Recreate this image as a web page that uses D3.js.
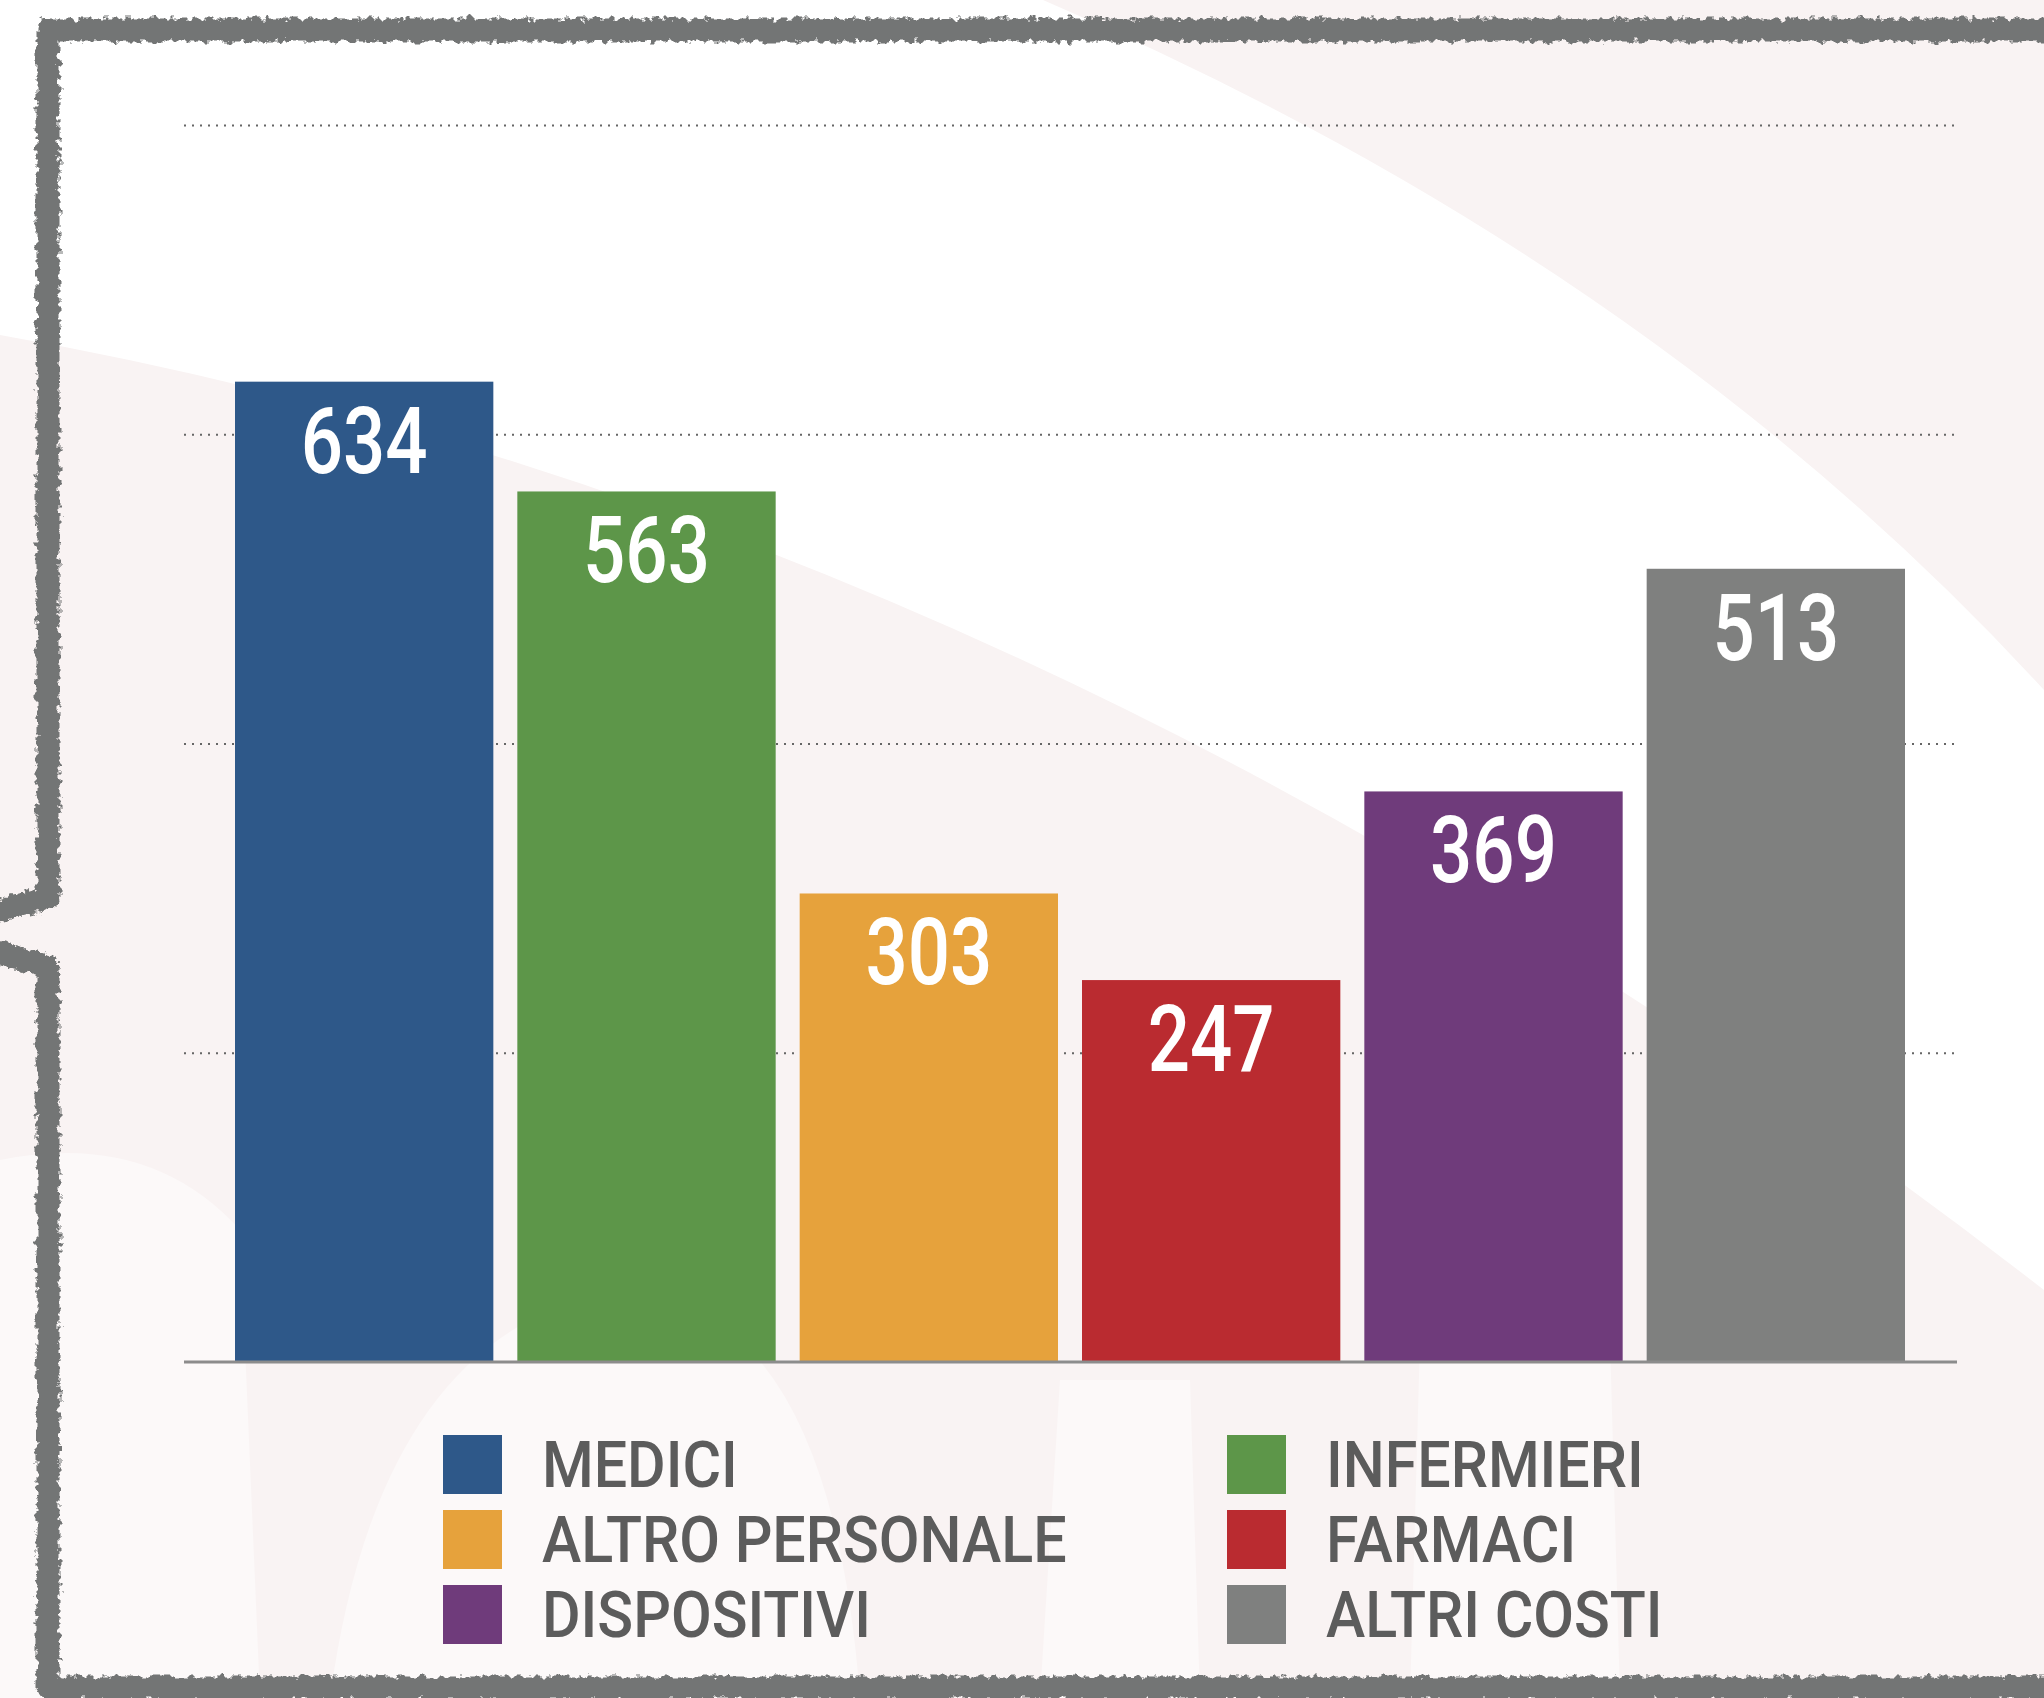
<!DOCTYPE html>
<html>
<head>
<meta charset="utf-8">
<script src="https://cdnjs.cloudflare.com/ajax/libs/d3/7.8.5/d3.min.js"></script>
<style>
  body { margin: 0; background: #fff; }
  svg { display: block; }
</style>
</head>
<body>
<svg width="2044" height="1698"></svg>
<script>
// data
const categories = ["MEDICI", "INFERMIERI", "ALTRO PERSONALE", "FARMACI", "DISPOSITIVI", "ALTRI COSTI"];
const values = [634, 563, 303, 247, 369, 513];
const colors = ["#2e5889", "#5d9649", "#e6a23c", "#ba2b30", "#6f3b7b", "#7f807f"];
const yTicks = [200, 400, 600, 800];

const svg = d3.select('svg');
const width = +svg.attr('width');
const height = +svg.attr('height');

const margin = { top: 125, right: 87, bottom: 336, left: 184 };
const innerWidth = width - margin.left - margin.right;
const innerHeight = height - margin.top - margin.bottom;

// DIN-like look: Roboto squeezed horizontally
const labelFont = 'Roboto, "Noto Sans", sans-serif';

// defs: rough brush filter for the frame
const defs = svg.append('defs');
const rough = defs.append('filter').attr('id', 'rough')
  .attr('x', '-5%').attr('y', '-5%').attr('width', '110%').attr('height', '110%');
rough.append('feTurbulence')
  .attr('type', 'fractalNoise')
  .attr('baseFrequency', '0.15')
  .attr('numOctaves', 3)
  .attr('seed', 3)
  .attr('result', 'noise');
rough.append('feDisplacementMap')
  .attr('in', 'SourceGraphic')
  .attr('in2', 'noise')
  .attr('scale', 11)
  .attr('xChannelSelector', 'R')
  .attr('yChannelSelector', 'G');

// faint watermark background
const bg = svg.append('g').attr('class', 'background');
const pink = '#f9f3f3';
bg.append('path')
  .attr('d', 'M1043,0 Q1650,260 2044,690 L2044,0 Z')
  .attr('fill', pink);
bg.append('path')
  .attr('d', 'M0,335 Q1050,520 2044,1290 L2044,1698 L0,1698 Z')
  .attr('fill', pink);
// lighter arches in the lower part of the watermark
const arch = '#fcf9f9';
bg.append('path')
  .attr('d', 'M0,1698 L0,1160 Q150,1130 240,1230 L260,1698 Z')
  .attr('fill', arch);
bg.append('path')
  .attr('d', 'M330,1698 Q380,1330 620,1290 Q830,1300 860,1698 Z')
  .attr('fill', arch);
bg.append('path')
  .attr('d', 'M1040,1698 L1060,1380 L1190,1380 L1200,1698 Z')
  .attr('fill', arch);
bg.append('path')
  .attr('d', 'M1410,1698 L1420,1340 L1610,1340 L1620,1698 Z')
  .attr('fill', arch);

const g = svg.append('g')
  .attr('transform', `translate(${margin.left},${margin.top})`);

const xScale = d3.scaleBand()
  .domain(categories)
  .range([235 - margin.left, 1905 - margin.left])
  .paddingInner(0.085)
  .paddingOuter(0);

const yScale = d3.scaleLinear()
  .domain([0, 800])
  .range([innerHeight, 0]);

// dotted gridlines
const yAxis = d3.axisLeft(yScale)
  .tickValues(yTicks)
  .tickSize(-innerWidth)
  .tickFormat('');

const yAxisG = g.append('g').attr('class', 'y-axis').call(yAxis);
yAxisG.select('.domain').remove();
yAxisG.selectAll('.tick line')
  .attr('stroke', '#666')
  .attr('stroke-width', 2)
  .attr('stroke-dasharray', '2,6');

// bars
g.selectAll('rect.bar').data(values)
  .enter().append('rect')
    .attr('class', 'bar')
    .attr('x', (d, i) => xScale(categories[i]))
    .attr('y', d => yScale(d))
    .attr('width', xScale.bandwidth())
    .attr('height', d => innerHeight - yScale(d))
    .attr('fill', (d, i) => colors[i]);

// value labels inside bars
g.selectAll('text.value').data(values)
  .enter().append('text')
    .attr('class', 'value')
    .attr('transform', (d, i) =>
      `translate(${xScale(categories[i]) + xScale.bandwidth() / 2},${yScale(d) + 91}) scale(0.8,1)`)
    .attr('text-anchor', 'middle')
    .attr('fill', '#fff')
    .style('font-family', labelFont)
    .style('font-weight', 500)
    .style('font-size', '93px')
    .text(d => d);

// baseline
const xAxis = d3.axisBottom(xScale).tickSize(0).tickFormat('');
const xAxisG = g.append('g')
  .attr('class', 'x-axis')
  .attr('transform', `translate(0,${innerHeight})`)
  .call(xAxis);
xAxisG.select('.domain').remove();
xAxisG.append('line')
  .attr('x1', 0)
  .attr('x2', innerWidth)
  .attr('stroke', '#8c8c8c')
  .attr('stroke-width', 3);

// legend, two columns
const legendCols = [443, 1227];
const legend = svg.append('g').attr('class', 'legend');
const items = legend.selectAll('g').data(categories)
  .enter().append('g')
    .attr('transform', (d, i) => `translate(${legendCols[i % 2]},${1435 + Math.floor(i / 2) * 75})`);
items.append('rect')
  .attr('width', 59)
  .attr('height', 59)
  .attr('fill', (d, i) => colors[i]);
items.append('text')
  .attr('transform', 'translate(99,52) scale(0.91,1)')
  .attr('fill', '#5c5c5c')
  .style('font-family', labelFont)
  .style('font-weight', 500)
  .style('font-size', '65px')
  .text(d => d);

// rough gray frame
svg.append('path')
  .attr('d', 'M2060,30 L48,30 L48,898 L-10,913 M-10,950 L48,966 L48,1688 L2060,1688')
  .attr('fill', 'none')
  .attr('stroke', '#737574')
  .attr('stroke-width', 23)
  .attr('stroke-linejoin', 'round')
  .attr('filter', 'url(#rough)');
</script>
</body>
</html>
